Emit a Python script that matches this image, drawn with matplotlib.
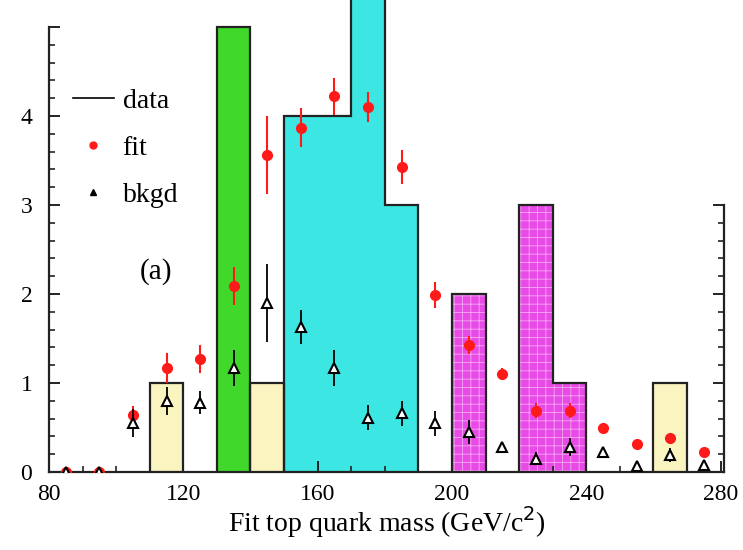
import numpy as np
import matplotlib
matplotlib.use("Agg")
import matplotlib.pyplot as plt
from matplotlib.lines import Line2D
from matplotlib.ticker import FixedLocator, MultipleLocator

plt.rcParams['font.family'] = ['Liberation Serif', 'DejaVu Serif']
plt.rcParams['hatch.linewidth'] = 0.6

# histogram (data)
bin_edges = list(range(80, 290, 10))
counts = [0, 0, 0, 1, 0, 5, 1, 4, 4, 6, 3, 0, 2, 0, 3, 1, 0, 0, 1, 0]
# colour group per bin
bin_groups = ['none', 'none', 'none', 'yellow', 'none', 'green', 'yellow',
              'cyan', 'cyan', 'cyan', 'cyan', 'none', 'magenta', 'none',
              'magenta', 'magenta', 'none', 'none', 'yellow', 'none']

# fit points and background points at bin centres
centers = [85, 95, 105, 115, 125, 135, 145, 155, 165, 175,
           185, 195, 205, 215, 225, 235, 245, 255, 265, 275]
fit = [0.0, 0.0, 0.64, 1.17, 1.27, 2.09, 3.56, 3.87, 4.22, 4.10,
       3.43, 1.99, 1.43, 1.10, 0.69, 0.69, 0.50, 0.31, 0.38, 0.23]
fit_err = [0.03, 0.03, 0.10, 0.17, 0.16, 0.21, 0.44, 0.22, 0.21, 0.17,
           0.19, 0.15, 0.10, 0.07, 0.08, 0.08, 0.05, 0.04, 0.06, 0.04]
bkg = [0.0, 0.0, 0.55, 0.80, 0.78, 1.17, 1.90, 1.63, 1.17, 0.61,
       0.66, 0.55, 0.45, 0.28, 0.15, 0.28, 0.23, 0.07, 0.19, 0.08]
bkg_err = [0.03, 0.03, 0.16, 0.16, 0.13, 0.20, 0.44, 0.19, 0.20, 0.14,
           0.14, 0.14, 0.13, 0.06, 0.07, 0.10, 0.05, 0.04, 0.08, 0.04]

colors = {'yellow': '#faf4c0', 'green': '#40d82a', 'cyan': '#3ce6e2',
          'magenta': '#e84ae6'}

fig = plt.figure(figsize=(7.43, 5.5), dpi=100)
ax = fig.add_axes([49/743, 78/550, 675/743, 472/550])
ax.set_xlim(80, 281)
ax.set_ylim(0, 472/89)

# draw contiguous groups of same colour as one outlined step patch
i = 0
n = len(counts)
while i < n:
    g = bin_groups[i]
    j = i
    while j + 1 < n and bin_groups[j + 1] == g:
        j += 1
    if g != 'none':
        vals = counts[i:j + 1]
        edges = bin_edges[i:j + 2]
        if g == 'magenta':
            ax.stairs(vals, edges, fill=True, facecolor=colors[g],
                      edgecolor='#f6a8f4', hatch='++', linewidth=0, zorder=1)
        else:
            ax.stairs(vals, edges, fill=True, facecolor=colors[g],
                      linewidth=0, zorder=1)
        ax.stairs(vals, edges, fill=True, facecolor='none',
                  edgecolor='#222222', linewidth=1.6, zorder=2)
    i = j + 1

# fit points
ax.errorbar(centers, fit, yerr=fit_err, fmt='o', color='#ff1a1a',
            markersize=7, elinewidth=1.5, capsize=0, zorder=4)
# background points
ax.errorbar(centers, bkg, yerr=bkg_err, fmt='^', color='black',
            markerfacecolor='white', markeredgecolor='black',
            markersize=7, markeredgewidth=1.5, elinewidth=1.3, capsize=0, zorder=5)

# spines
ax.spines['top'].set_visible(False)
ax.spines['right'].set_visible(False)
ax.spines['left'].set_bounds(0, 5)
for s in ['left', 'bottom']:
    ax.spines[s].set_linewidth(1.6)
    ax.spines[s].set_color('#222222')

ax.set_xticks([80, 120, 160, 200, 240, 280])
ax.set_xticklabels(['80', '120', '160', '200', '240', '280'])
ax.xaxis.set_minor_locator(MultipleLocator(10))
ax.set_yticks([0, 1, 2, 3, 4, 5])
ax.set_yticklabels(['0', '1', '2', '3', '4', ''])
ax.yaxis.set_minor_locator(FixedLocator(np.arange(0, 5.01, 0.2)))
ax.tick_params(axis='both', which='major', direction='in', length=8, width=1.4,
               labelsize=17, color='#222222')
ax.tick_params(axis='both', which='minor', direction='in', length=4.5, width=1.2,
               color='#222222')
ax.tick_params(axis='x', which='major', pad=9)
ax.tick_params(axis='y', which='major', pad=12)

# right axis, only up to 3
ax2 = ax.twinx()
ax2.set_ylim(ax.get_ylim())
for s in ['top', 'left', 'bottom']:
    ax2.spines[s].set_visible(False)
ax2.spines['right'].set_bounds(0, 3)
ax2.spines['right'].set_linewidth(1.6)
ax2.spines['right'].set_color('#222222')
ax2.set_yticks([0, 1, 2, 3])
ax2.set_yticklabels([])
ax2.yaxis.set_minor_locator(FixedLocator(np.arange(0, 3.01, 0.2)))
ax2.tick_params(axis='y', which='major', direction='in', length=8, width=1.4, color='#222222')
ax2.tick_params(axis='y', which='minor', direction='in', length=4.5, width=1.2, color='#222222')

ax.set_xlabel('Fit top quark mass (GeV/c$^{2}$)', fontsize=20, labelpad=-1)

ax.text(112, 2.25, '(a)', fontsize=21, ha='center', va='center')

handles = [Line2D([], [], color='black', lw=1.2),
           Line2D([], [], marker='o', color='#ff1a1a', ls='none', markersize=5),
           Line2D([], [], marker='^', color='black', ls='none', markersize=4)]
ax.legend(handles, ['data', 'fit', 'bkgd'], loc='upper left',
          bbox_to_anchor=(-0.002, 0.866), frameon=False, fontsize=20,
          handlelength=1.5, labelspacing=0.78, handletextpad=0.3,
          borderpad=0.4)

fig.savefig('out.png', dpi=100, facecolor='white')
